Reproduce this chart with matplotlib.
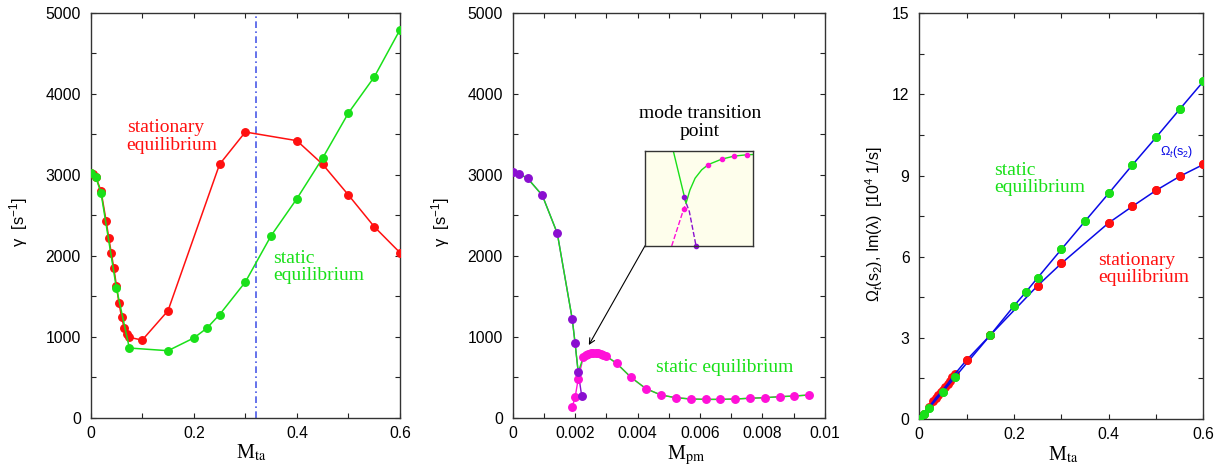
#!/usr/bin/python3
# -*- coding: utf-8 -*-
import numpy as np
import matplotlib
matplotlib.use('Agg')
import matplotlib.pyplot as plt
from matplotlib.ticker import MultipleLocator

plt.rcParams['font.family'] = ['Liberation Sans', 'DejaVu Sans']
plt.rcParams['mathtext.fontset'] = 'custom'
plt.rcParams['mathtext.rm'] = 'Liberation Sans'
plt.rcParams['mathtext.it'] = 'Liberation Sans:italic'

# ---- panel 1 : growth rate vs M_ta
red_x = [0, 0.005, 0.01, 0.02, 0.03, 0.035, 0.04, 0.045, 0.05, 0.055, 0.06, 0.065,
         0.07, 0.075, 0.1, 0.15, 0.25, 0.3, 0.4, 0.45, 0.5, 0.55, 0.6]
red_gamma = [3025, 3010, 2970, 2800, 2428, 2222, 2030, 1844, 1626, 1412, 1240, 1111,
             1033, 992, 958, 1321, 3128, 3527, 3420, 3128, 2749, 2358, 2037]
green_x = [0, 0.01, 0.02, 0.05, 0.075, 0.15, 0.2, 0.225, 0.25, 0.3, 0.35, 0.4,
           0.45, 0.5, 0.55, 0.6]
green_gamma = [3025, 2967, 2778, 1597, 860, 827, 984, 1103, 1272, 1675, 2247, 2704,
               3206, 3762, 4206, 4790]
m_ta_marker = 0.32

# ---- panel 2 : growth rate vs M_pm
purple_x = [0, 0.0002, 0.00048, 0.00095, 0.00143, 0.00191, 0.0020, 0.0021, 0.00221]
purple_gamma = [3029, 3012, 2955, 2745, 2276, 1214, 918, 560, 272]
magenta_x = [0.00191, 0.0020, 0.0021, 0.00226, 0.00235, 0.00242, 0.0025, 0.00258,
             0.00267, 0.00274, 0.00282, 0.0029, 0.00299, 0.00333, 0.00379, 0.00427,
             0.00475, 0.00522, 0.0057, 0.00618, 0.00665, 0.00713, 0.0076, 0.00808,
             0.00855, 0.00902, 0.0095]
magenta_gamma = [136, 251, 478, 746, 770, 786, 795, 799, 799, 795, 786, 774, 762,
                 671, 498, 358, 280, 247, 231, 226, 226, 231, 240, 247, 259, 268, 280]

# zoom of the mode transition (inset, normalised coordinates)
inset_green_x = [0.262, 0.378, 0.415, 0.462, 0.523, 0.585, 0.708, 0.822, 0.938, 1.0]
inset_green_y = [1.0, 0.452, 0.594, 0.717, 0.806, 0.862, 0.919, 0.951, 0.965, 0.968]
inset_mag_dots_x = [0.357, 0.585, 0.708, 0.822, 0.938]
inset_mag_dots_y = [0.392, 0.862, 0.919, 0.951, 0.965]
inset_pur_dots_x = [0.357, 0.471]
inset_pur_dots_y = [0.523, 0.0]
inset_mag_dash_x = [0.246, 0.357, 0.378]
inset_mag_dash_y = [0.0, 0.392, 0.452]
inset_pur_dash_x = [0.357, 0.409, 0.471]
inset_pur_dash_y = [0.523, 0.364, 0.0]

# ---- panel 3 : frequency vs M_ta
red_omega = [0, 0.1, 0.2, 0.44, 0.66, 0.78, 0.88, 0.98, 1.08, 1.19, 1.3, 1.42,
             1.55, 1.66, 2.18, 3.1, 4.93, 5.75, 7.25, 7.86, 8.45, 8.97, 9.41]
green_omega = [0, 0.18, 0.39, 1.01, 1.54, 3.1, 4.18, 4.69, 5.22, 6.27, 7.31, 8.34,
               9.39, 10.41, 11.45, 12.48]

RED = '#ff1010'
GREEN = '#19e019'
PURPLE = '#8a0fd0'
MAGENTA = '#ff10d8'
BLUE = '#0a0ae6'
SERIF = 'Liberation Serif'
TXT = 14
MS = 5.4


def style_axes(ax, xmaj, xmin, ymaj, ymin):
    ax.xaxis.set_major_locator(MultipleLocator(xmaj))
    ax.xaxis.set_minor_locator(MultipleLocator(xmin))
    ax.yaxis.set_major_locator(MultipleLocator(ymaj))
    ax.yaxis.set_minor_locator(MultipleLocator(ymin))
    ax.tick_params(which='both', direction='in', top=True, right=True,
                   length=3.5, width=0.8, color='#222222')
    ax.tick_params(which='major', labelsize=11.3, pad=6)
    ax.tick_params(axis='y', which='major', pad=7)
    for s in ax.spines.values():
        s.set_color('#333333')
        s.set_linewidth(1.0)


def xlabel(ax, sub, xpos):
    ax.set_xlabel(r'M$_{\mathrm{' + sub + '}}$', family=SERIF, fontsize=14.5,
                  math_fontfamily='stix')
    ax.xaxis.set_label_coords(xpos, -0.062)


fig = plt.figure(figsize=(12.27, 4.70), dpi=100)

# ---------------- panel 1
ax1 = fig.add_axes([0.0739, 0.1113, 0.2521, 0.8617])
ax1.plot(red_x, red_gamma, '-', color=RED, lw=1.1, zorder=2)
ax1.plot(red_x, red_gamma, 'o', color=RED, ms=MS, zorder=3)
ax1.plot(green_x, green_gamma, '-', color=GREEN, lw=1.1, zorder=4)
ax1.plot(green_x, green_gamma, 'o', color=GREEN, ms=MS, zorder=5)
ax1.axvline(m_ta_marker, color='#4a5ae8', lw=1.2, ls=(0, (4, 2, 1, 2)), zorder=1)
ax1.set_xlim(0, 0.6)
ax1.set_ylim(0, 5000)
style_axes(ax1, 0.2, 0.1, 1000, 500)
ax1.xaxis.set_major_formatter(plt.FuncFormatter(lambda v, p: '%g' % round(v, 3)))
ax1.text(0.0698, 3469, 'stationary\nequilibrium', color=RED, family=SERIF,
         fontsize=TXT, va='center', ha='left', linespacing=1.05)
ax1.text(0.354, 1860, 'static\nequilibrium', color=GREEN, family=SERIF,
         fontsize=TXT, va='center', ha='left', linespacing=1.05)
ax1.set_ylabel('γ  [s$^{-1}$]', fontsize=12)
ax1.yaxis.set_label_coords(-0.196, 0.484)
xlabel(ax1, 'ta', 0.52)

# ---------------- panel 2
ax2 = fig.add_axes([0.4178, 0.1113, 0.2545, 0.8617])
green_line_x = purple_x[:8] + magenta_x[3:]
green_line_y = purple_gamma[:8] + magenta_gamma[3:]
ax2.plot(magenta_x, magenta_gamma, '-', color=MAGENTA, lw=1.0, zorder=2)
ax2.plot(purple_x, purple_gamma, '-', color=PURPLE, lw=1.0, zorder=2)
ax2.plot(green_line_x, green_line_y, '-', color=GREEN, lw=1.0, zorder=3)
ax2.plot(magenta_x, magenta_gamma, 'o', color=MAGENTA, ms=MS, zorder=4)
ax2.plot(purple_x, purple_gamma, 'o', color=PURPLE, ms=MS, zorder=4)
ax2.set_xlim(0, 0.01)
ax2.set_ylim(0, 5000)
style_axes(ax2, 0.002, 0.001, 1000, 500)
ax2.xaxis.set_major_formatter(plt.FuncFormatter(lambda v, p: '%g' % round(v, 4)))
ax2.text(0.006, 3647, 'mode transition\npoint', color='black', family=SERIF,
         fontsize=TXT, va='center', ha='center', linespacing=1.05)
ax2.text(0.00459, 617, 'static equilibrium', color=GREEN, family=SERIF,
         fontsize=TXT, va='center', ha='left')
ax2.annotate('', xy=(0.00244, 897), xytext=(0.00424, 2123),
             arrowprops=dict(arrowstyle='->', color='black', lw=0.8,
                             shrinkA=0, shrinkB=0))
ax2.set_ylabel('γ  [s$^{-1}$]', fontsize=12)
ax2.yaxis.set_label_coords(-0.194, 0.484)
xlabel(ax2, 'pm', 0.554)

# inset with the crossing of the two modes
axi = fig.add_axes([0.5257, 0.4766, 0.0883, 0.2011])
axi.set_facecolor('#fefeec')
axi.plot(inset_mag_dash_x, inset_mag_dash_y, '--', color=MAGENTA, lw=1.0)
axi.plot(inset_pur_dash_x, inset_pur_dash_y, '--', color=PURPLE, lw=1.0)
axi.plot(inset_green_x, inset_green_y, '-', color=GREEN, lw=1.0)
axi.plot(inset_mag_dots_x, inset_mag_dots_y, 'o', color=MAGENTA, ms=3)
axi.plot(inset_pur_dots_x, inset_pur_dots_y, 'o', color=PURPLE, ms=3, clip_on=False)
axi.set_xlim(0, 1)
axi.set_ylim(0, 1)
axi.set_xticks([])
axi.set_yticks([])
for s in axi.spines.values():
    s.set_color('#333333')
    s.set_linewidth(1.0)

# ---------------- panel 3
ax3 = fig.add_axes([0.7492, 0.1085, 0.2315, 0.8632])
ax3.plot(red_x, red_omega, 'o', color=RED, ms=MS, zorder=2)
ax3.plot(green_x, green_omega, 'o', color=GREEN, ms=MS, zorder=2)
ax3.plot(red_x, red_omega, '-', color=BLUE, lw=1.1, zorder=3)
ax3.plot(green_x, green_omega, '-', color=BLUE, lw=1.1, zorder=3)
ax3.plot(red_x[14:], red_omega[14:], 'o', color=RED, ms=MS, zorder=4)
ax3.plot(green_x, green_omega, 'o', color=GREEN, ms=MS, zorder=5)
ax3.set_xlim(0, 0.6)
ax3.set_ylim(0, 15)
style_axes(ax3, 0.2, 0.1, 3, 1.5)
ax3.xaxis.set_major_formatter(plt.FuncFormatter(lambda v, p: '%g' % round(v, 3)))
ax3.text(0.158, 8.87, 'static\nequilibrium', color=GREEN, family=SERIF,
         fontsize=TXT, va='center', ha='left', linespacing=1.05)
ax3.text(0.378, 5.55, 'stationary\nequilibrium', color=RED, family=SERIF,
         fontsize=TXT, va='center', ha='left', linespacing=1.05)
ax3.text(0.509, 9.88, 'Ω$_t$(s$_2$)', color=BLUE, fontsize=9, va='center', ha='left')
ax3.set_ylabel('Ω$_t$(s$_2$), Im(λ)  [10$^4$ 1/s]', fontsize=11.5)
ax3.yaxis.set_label_coords(-0.121, 0.48)
xlabel(ax3, 'ta', 0.507)

fig.savefig('out.png', dpi=100)
